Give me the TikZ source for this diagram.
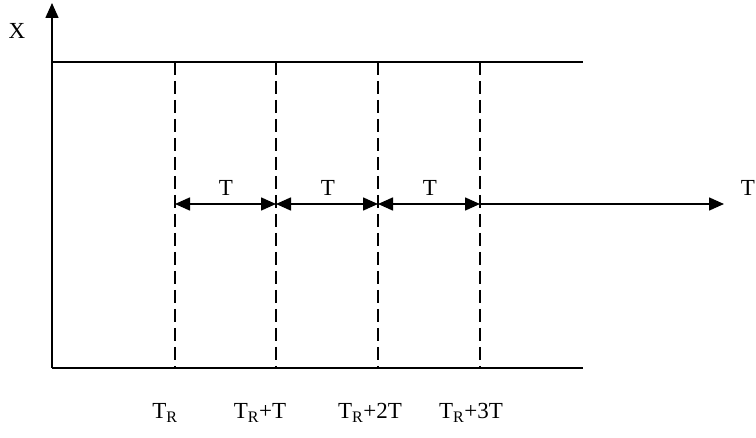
\documentclass[tikz,border=0pt]{standalone}
\usepackage{fontspec}
\setmainfont{Liberation Serif}
\usetikzlibrary{arrows.meta}
\begin{document}
\begin{tikzpicture}[x=1pt,y=1pt,
  ln/.style={line width=1.6pt},
  dsh/.style={line width=1.6pt, dash pattern=on 13pt off 6pt},
  tip/.style={-{Triangle[length=15pt,width=13pt]}},
  dtip/.style={{Triangle[length=15pt,width=13pt]}-{Triangle[length=15pt,width=13pt]}},
  lbl/.style={font=\fontsize{23}{26}\selectfont, inner sep=0pt}]
\useasboundingbox (0,0) rectangle (756,437);
% key points (y flipped: 437 - image y)
\coordinate (O) at (52,69);
\coordinate (Ytop) at (52,434);
\coordinate (TL) at (52,375);
\coordinate (TR) at (583,375);
\coordinate (BR) at (583,69);
\foreach \n/\x in {a/175,b/276,c/378,d/480}{
  \coordinate (\n top) at (\x,375);
  \coordinate (\n bot) at (\x,69);
  \coordinate (\n mid) at (\x,233);
}
\coordinate (Tend) at (724,233);
% axes and lines
\draw[ln,tip] (O) -- (Ytop);
\draw[ln] (TL) -- (TR);
\draw[ln] (O) -- (BR);
\foreach \n in {a,b,c,d}{\draw[dsh] (\n top) -- (\n bot);}
\draw[ln,dtip] (amid) -- (bmid);
\draw[ln,dtip] (bmid) -- (cmid);
\draw[ln,dtip] (cmid) -- (dmid);
\draw[ln,tip] (dmid) -- (Tend);
% labels
\node[lbl] (xl) at (17,406) {X};
\node[lbl] (tl) at (748,249) {T};
\node[lbl] (t1) at (226,249) {T};
\node[lbl] (t2) at (328,249) {T};
\node[lbl] (t3) at (430,249) {T};
\node[lbl] (l1) at (165,24) {T\textsubscript{R}};
\node[lbl] (l2) at (260,24) {T\textsubscript{R}+T};
\node[lbl] (l3) at (370,24) {T\textsubscript{R}+2T};
\node[lbl] (l4) at (471,24) {T\textsubscript{R}+3T};
\end{tikzpicture}
\end{document}
